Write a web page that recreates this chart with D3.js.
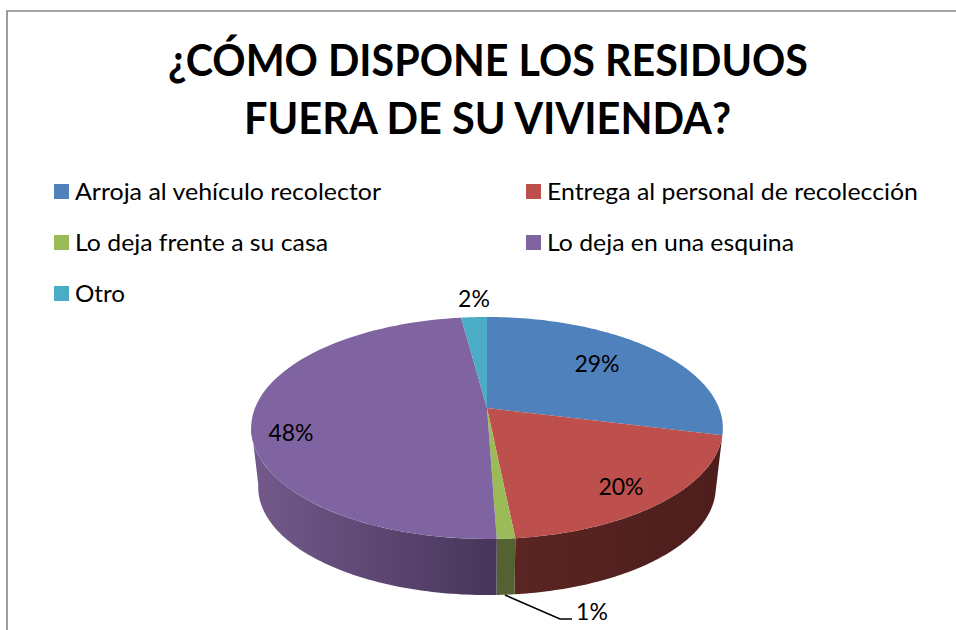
<!DOCTYPE html>
<html><head><meta charset="utf-8">
<script src="https://cdn.jsdelivr.net/npm/d3@7/dist/d3.min.js"></script>
<style>html,body{margin:0;background:#fff}svg{display:block}text{font-family:Lato,"Open Sans",sans-serif;fill:#000}</style>
</head><body><script>
const titleLines = ["¿CÓMO DISPONE LOS RESIDUOS", "FUERA DE SU VIVIENDA?"];
const categories = ["Arroja al vehículo recolector", "Entrega al personal de recolección", "Lo deja frente a su casa", "Lo deja en una esquina", "Otro"];
const values = [28.9, 19.5, 1.05, 48.45, 2.1];
const labels = ["29%", "20%", "1%", "48%", "2%"];
const colors = ["#4f81bd", "#bd4f4c", "#9bbb59", "#8064a2", "#4bacc6"];
const wallLeft = ["#2a4566", "#5a2523", "#536230", "#745a8c", "#28606f"];
const wallRight = ["#2a4566", "#4c1e1c", "#536230", "#47355a", "#28606f"];

const W = 956, H = 630;
const svg = d3.select("body").append("svg").attr("width", W).attr("height", H);
const defs = svg.append("defs");

// frame
svg.append("path").attr("d", d3.line()([[7, H], [7, 11], [W, 11]])).attr("fill", "none").attr("stroke", "#868686").attr("stroke-width", 1.6);

// title
const titleExtents = [[168, 808], [244, 731]];
svg.selectAll("text.title").data(titleLines).join("text").attr("class", "title")
  .attr("x", (d, i) => titleExtents[i][0]).attr("y", (d, i) => 76 + i * 58)
  .attr("font-size", 43).attr("font-weight", 700)
  .attr("textLength", (d, i) => titleExtents[i][1] - titleExtents[i][0]).attr("lengthAdjust", "spacingAndGlyphs")
  .text(d => d);

// legend
const legendX = [54, 526], legendY = [184, 235, 286];
const legendWidths = [306, 371, 253, 247, 50];
const lg = svg.selectAll("g.lg").data(categories).join("g").attr("class", "lg")
  .attr("transform", (d, i) => `translate(${legendX[i % 2]},${legendY[Math.floor(i / 2)]})`);
lg.append("rect").attr("width", 15).attr("height", 15).attr("fill", (d, i) => colors[i]);
lg.append("text").attr("x", 21).attr("y", 16).attr("font-size", 24)
  .attr("textLength", (d, i) => legendWidths[i]).attr("lengthAdjust", "spacingAndGlyphs").text(d => d);

// perspective pie: disc projected from the unit circle
const cx = 487, topY = 408, bottomY = 468, R = 232, S = 107.4, K = 0.18, bottomScale = 0.97;
const project = (angle, y0, scale) => {
  const u = Math.sin(angle), v = -Math.cos(angle), w = 1 - K * v;
  return [cx + scale * R * u / w, y0 + scale * S * v / w];
};
const onTop = a => project(a, topY, 1);
const onBottom = a => project(a, bottomY, bottomScale);
const arcs = d3.pie().sort(null).value(d => d)(values);
const sample = (a0, a1) => d3.range(0, 81).map(d3.scaleLinear().domain([0, 80]).range([a0, a1]));
const poly = d3.line().curve(d3.curveLinearClosed);

// walls
const wallMin = arcs[0].endAngle, wallMax = Math.PI * 1.45;
arcs.forEach((a, i) => {
  const a0 = Math.max(a.startAngle, wallMin), a1 = Math.min(a.endAngle, wallMax);
  if (a1 <= a0) return;
  const pts = sample(a0, a1);
  const t = pts.map(x => onTop(x)), b = pts.map(x => onBottom(x)).reverse();
  const xs = t.concat(b).map(p => p[0]);
  const g = defs.append("linearGradient").attr("id", "wall" + i).attr("gradientUnits", "userSpaceOnUse")
    .attr("x1", d3.min(xs)).attr("x2", d3.max(xs)).attr("y1", 0).attr("y2", 0);
  g.append("stop").attr("offset", 0).attr("stop-color", wallLeft[i]);
  g.append("stop").attr("offset", 1).attr("stop-color", wallRight[i]);
  svg.append("path").attr("d", poly(t.concat(b))).attr("fill", `url(#wall${i})`);
});

// top faces
svg.selectAll("path.slice").data(arcs).join("path").attr("class", "slice")
  .attr("d", a => poly([[cx, topY]].concat(sample(a.startAngle, a.endAngle).map(x => onTop(x)))))
  .attr("fill", (a, i) => colors[i]);

// leader for the smallest slice
svg.append("path").attr("d", d3.line()([[505, 595], [560, 619], [572, 619]])).attr("fill", "none").attr("stroke", "#000").attr("stroke-width", 1.5);

// data labels
const labelPos = [[597, 372], [621, 495], [592, 620], [291, 441], [474, 307]];
svg.selectAll("text.lab").data(labels).join("text").attr("class", "lab")
  .attr("x", (d, i) => labelPos[i][0]).attr("y", (d, i) => labelPos[i][1])
  .attr("text-anchor", "middle").attr("font-size", 23)
  .text(d => d);
</script></body></html>
